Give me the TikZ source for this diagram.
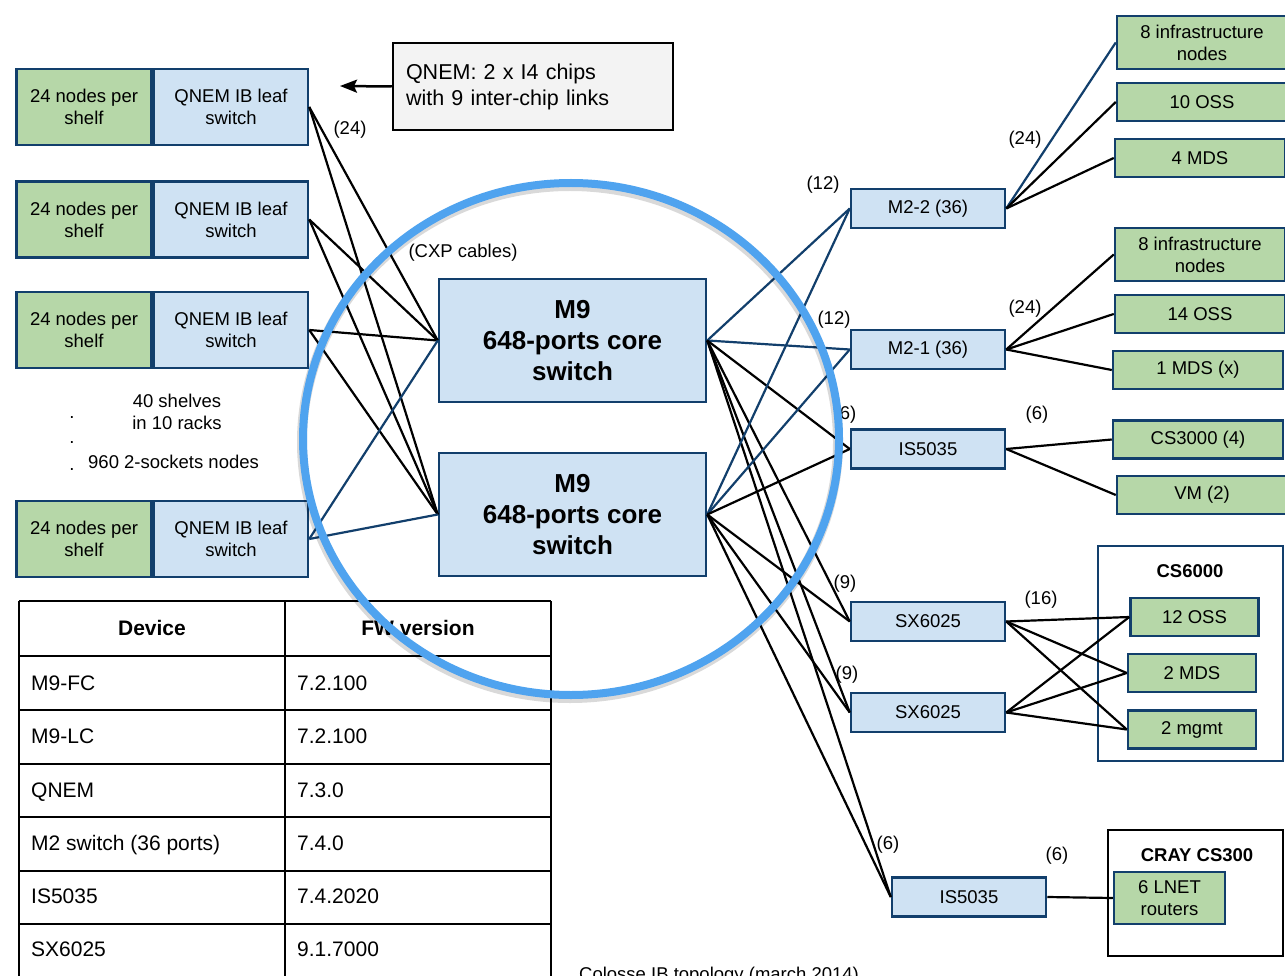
\documentclass[tikz,border=0pt]{standalone}
\usepackage{fontspec}
\setmainfont{Liberation Sans}
\usetikzlibrary{arrows.meta, positioning, shapes}
\definecolor{shelfgreen}{HTML}{B6D7A8}
\definecolor{switchblue}{HTML}{CFE2F3}
\definecolor{navy}{HTML}{123F6C}
\definecolor{notegray}{HTML}{F3F3F3}
\definecolor{ringblue}{HTML}{4FA3EF}

\begin{document}
\begin{tikzpicture}[x=1pt,y=-1pt,
        font=\fontsize{18.5}{22}\selectfont,
        box/.style={draw=navy,line width=2.5pt,align=center,inner sep=0pt},
        shelf node/.style={box,fill=shelfgreen,minimum width=135pt,minimum height=76pt},
        leaf node/.style={box,fill=switchblue,minimum width=154pt,minimum height=76pt},
        core node/.style={box,fill=switchblue,minimum width=267pt,minimum height=123pt,
            font=\fontsize{26}{31}\selectfont\bfseries},
        sw node/.style={box,fill=switchblue,minimum width=154pt,minimum height=39pt},
        srv node/.style={box,fill=shelfgreen,minimum width=170pt,minimum height=38pt},
        link/.style={line width=2.2pt},
        blink/.style={link,draw=navy},
        lbl/.style={inner sep=0pt},
        cell/.style={inner sep=0pt,anchor=west,text height=15pt,text depth=0pt,
            font=\fontsize{21}{25}\selectfont}]
        \useasboundingbox (0,0) rectangle (1285,976);
        \clip (0,0) rectangle (1285,976);

        % shelves and leaf switches
        \foreach \i/\y in {1/107, 2/219.5, 3/330, 4/539} {
        \node[leaf node] (L\i) at (231,\y) {QNEM IB leaf\\switch};
        \node[shelf node, left=0pt of L\i] (S\i) {24 nodes per\\shelf};}

        \node[lbl, align=center] (racks) at (177,412) {40 shelves\\in 10 racks};
        \node[lbl, anchor=west] (total) at (88,462) {960 2-sockets nodes};
        \foreach \y [count=\i] in {418,443,470} {
        \node[lbl] (dot\i) at (72,\y) {.};}

        % note
        \node[draw=black, fill=notegray, line width=2.5pt, minimum width=280pt, minimum height=87pt,
            inner xsep=13pt, text width=254pt, align=left, font=\fontsize{21.5}{26}\selectfont]
            (note) at (533,86.5) {QNEM: 2 x I4 chips\\with 9 inter-chip links};
        \coordinate (notetip) at (340,86);
        \draw[line width=2.5pt, -{Stealth[length=17pt,width=13pt,inset=3pt]}] (note.west) -- (notetip);

        % core switches
        \node[core node] (C1) at (572.5,340.5) {M9\\648-ports core\\switch};
        \node[core node] (C2) at (572.5,514.5) {M9\\648-ports core\\switch};

        % right switches
        \node[sw node] (M22) at (928,208.5) {M2-2 (36)};
        \node[sw node] (M21) at (928,349.5) {M2-1 (36)};
        \node[sw node] (IS1) at (928,449) {IS5035};
        \node[sw node] (SX1) at (928,621.5) {SX6025};
        \node[sw node] (SX2) at (928,712.5) {SX6025};
        \node[sw node] (IS2) at (969,897) {IS5035};

        % servers
        \node[srv node, minimum height=53pt] (I2) at (1202,42.5) {8 infrastructure\\nodes};
        \node[srv node] (O2) at (1202,102) {10 OSS};
        \node[srv node] (D2) at (1200,158) {4 MDS};
        \node[srv node, minimum height=53pt] (I1) at (1200,254.5) {8 infrastructure\\nodes};
        \node[srv node] (O1) at (1200,314) {14 OSS};
        \node[srv node] (D1) at (1198,370) {1 MDS (x)};
        \node[srv node] (CS) at (1198,439.5) {CS3000 (4)};
        \node[srv node] (VM) at (1202,495) {VM (2)};

        \node[draw=navy, line width=2pt, minimum width=185pt, minimum height=215pt] (cs6000) at (1190.5,653.5) {};
        \node[lbl, font=\fontsize{18.5}{22}\selectfont\bfseries] (cs6000 title) at (1190,571) {CS6000};
        \node[srv node, minimum width=128pt] (P1) at (1194.5,617) {12 OSS};
        \node[srv node, minimum width=128pt] (P2) at (1192,673) {2 MDS};
        \node[srv node, minimum width=128pt] (P3) at (1192,729.5) {2 mgmt};

        \node[draw=black, line width=2.5pt, minimum width=175pt, minimum height=126pt] (cray) at (1195.5,893) {};
        \node[lbl, font=\fontsize{18.5}{22}\selectfont\bfseries] (cray title) at (1197,855) {CRAY CS300};
        \node[srv node, minimum width=111pt, minimum height=52pt] (LN) at (1169.5,898) {6 LNET\\routers};

        % links
        \foreach \s/\t in {L1/C1, L1/C2, L2/C1, L2/C2, L3/C1, L3/C2} {
        \path[draw, link] (\s.east) edge (\t.west);}
        \foreach \t in {C1, C2} {
        \path[draw, blink] (L4.east) edge (\t.west);}
        \foreach \s in {C1, C2} {
        \foreach \t in {M22, M21} {
        \path[draw, blink] (\s.east) edge (\t.west);}
        \foreach \t in {IS1, SX1, SX2, IS2} {
        \path[draw, link] (\s.east) edge (\t.west);}}
        \path[draw, blink] (M22.east) edge (I2.west);
        \foreach \s/\t in {M22/O2, M22/D2, M21/I1, M21/O1, M21/D1, IS1/CS, IS1/VM,
            SX1/P1, SX1/P2, SX1/P3, SX2/P1, SX2/P2, SX2/P3, IS2/LN} {
        \path[draw, link] (\s.east) edge (\t.west);}

        % port counts
        \node[lbl] (n24a) at (350,130) {(24)};
        \node[lbl] (cxp) at (463,253) {(CXP cables)};
        \node[lbl] (n12a) at (823,185) {(12)};
        \node[lbl] (n12b) at (834,320) {(12)};
        \node[lbl] (n6a) at (845,415) {(6)};
        \node[lbl] (n9a) at (845,584) {(9)};
        \node[lbl] (n9b) at (847,675) {(9)};
        \node[lbl] (n6b) at (888,845) {(6)};
        \node[lbl] (n24b) at (1025,140) {(24)};
        \node[lbl] (n24c) at (1025,309) {(24)};
        \node[lbl] (n6c) at (1037,415) {(6)};
        \node[lbl] (n16) at (1041,600) {(16)};
        \node[lbl] (n6d) at (1057,856) {(6)};

        % firmware table
        \foreach \y in {601,656,710,764,817,871,924} {
        \draw[line width=1.3pt] (19,\y) -- (551,\y);}
        \foreach \x in {19,285,551} {
        \draw[line width=1.3pt] (\x,601) -- (\x,980);}
        \node[cell, anchor=center, font=\fontsize{21}{25}\selectfont\bfseries] (devhead) at (152,628) {Device};
        \node[cell, anchor=center, font=\fontsize{21}{25}\selectfont\bfseries] (fwhead) at (418,628) {FW version};
        \foreach \y/\dev/\fw [count=\i] in {683/M9-FC/7.2.100, 736/M9-LC/7.2.100, 790/QNEM/7.3.0,
            843/M2 switch (36 ports)/7.4.0, 896/IS5035/7.4.2020, 949/SX6025/9.1.7000} {
        \node[cell] (dev\i) at (31,\y) {\dev};
        \node[cell] (fw\i) at (297,\y) {\fw};}

        \node[anchor=base west, inner sep=0pt] (caption) at (579,980) {Colosse IB topology (march 2014)};

        % highlight ring
        \draw[black, opacity=0.15, line width=10pt] (570,442) ellipse [x radius=268pt, y radius=256pt];
        \draw[ringblue, line width=8pt] (571,439) ellipse [x radius=268pt, y radius=256pt];
\end{tikzpicture}
\end{document}
